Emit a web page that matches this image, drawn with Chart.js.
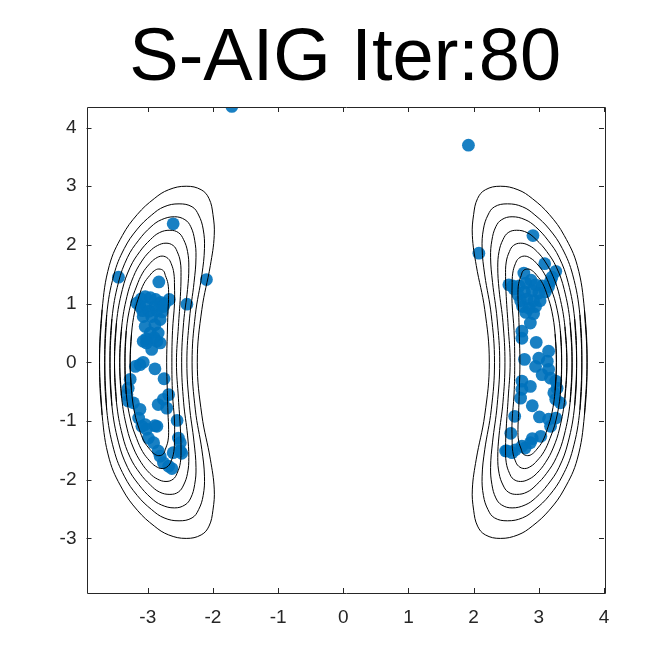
<!DOCTYPE html>
<html>
<head>
<meta charset="utf-8">
<script src="https://cdn.jsdelivr.net/npm/chart.js@4.4.1/dist/chart.umd.min.js"></script>
<style>
  html, body { margin: 0; padding: 0; background: #fff; }
  #wrap { width: 667px; height: 667px; }
</style>
</head>
<body>
<div id="wrap"><canvas id="plot" width="667" height="667"></canvas></div>
<script>
const titleText = "S-AIG Iter:80";

// axis limits and tick labels
const xLimits = [-3.94, 4];
const yLimits = [-3.93, 4.35];
const xTickValues = [-3, -2, -1, 0, 1, 2, 3, 4];
const yTickValues = [-3, -2, -1, 0, 1, 2, 3, 4];

// contour rings of the left mode (outer -> inner)
const leftC1 = [[-3.74,0],[-3.70,0.90],[-3.59,1.65],[-3.39,2.16],[-3.16,2.52],[-2.90,2.79],[-2.68,2.94],[-2.41,3.00],[-2.18,2.94],[-2.06,2.79],[-2.00,2.52],[-1.98,2.16],[-2.04,1.65],[-2.17,0.90],[-2.24,0],[-2.17,-0.90],[-2.04,-1.65],[-1.98,-2.16],[-2.00,-2.52],[-2.06,-2.79],[-2.18,-2.94],[-2.41,-3.00],[-2.68,-2.94],[-2.90,-2.79],[-3.16,-2.52],[-3.39,-2.16],[-3.59,-1.65],[-3.70,-0.90]];
const leftC2 = [[-3.66,0],[-3.63,0.81],[-3.52,1.49],[-3.36,1.94],[-3.16,2.27],[-2.94,2.51],[-2.75,2.65],[-2.52,2.70],[-2.32,2.65],[-2.22,2.51],[-2.15,2.27],[-2.13,1.94],[-2.17,1.49],[-2.27,0.81],[-2.32,0],[-2.27,-0.81],[-2.17,-1.49],[-2.13,-1.94],[-2.15,-2.27],[-2.22,-2.51],[-2.32,-2.65],[-2.52,-2.70],[-2.75,-2.65],[-2.94,-2.51],[-3.16,-2.27],[-3.36,-1.94],[-3.52,-1.49],[-3.63,-0.81]];
const leftC3 = [[-3.58,0],[-3.55,0.74],[-3.45,1.36],[-3.31,1.79],[-3.14,2.08],[-2.95,2.31],[-2.79,2.43],[-2.59,2.48],[-2.43,2.43],[-2.34,2.31],[-2.28,2.08],[-2.26,1.79],[-2.29,1.36],[-2.36,0.74],[-2.40,0],[-2.36,-0.74],[-2.29,-1.36],[-2.26,-1.79],[-2.28,-2.08],[-2.34,-2.31],[-2.43,-2.43],[-2.59,-2.48],[-2.79,-2.43],[-2.95,-2.31],[-3.14,-2.08],[-3.31,-1.79],[-3.45,-1.36],[-3.55,-0.74]];
const leftC4 = [[-3.51,0],[-3.48,0.68],[-3.39,1.24],[-3.27,1.62],[-3.12,1.89],[-2.96,2.09],[-2.82,2.21],[-2.66,2.25],[-2.53,2.21],[-2.45,2.09],[-2.39,1.89],[-2.37,1.62],[-2.39,1.24],[-2.45,0.68],[-2.48,0],[-2.45,-0.68],[-2.39,-1.24],[-2.37,-1.62],[-2.39,-1.89],[-2.45,-2.09],[-2.53,-2.21],[-2.66,-2.25],[-2.82,-2.21],[-2.96,-2.09],[-3.12,-1.89],[-3.27,-1.62],[-3.39,-1.24],[-3.48,-0.68]];
const leftC5 = [[-3.43,0],[-3.40,0.61],[-3.32,1.12],[-3.22,1.46],[-3.10,1.71],[-2.97,1.89],[-2.85,1.99],[-2.72,2.03],[-2.61,1.99],[-2.55,1.89],[-2.50,1.71],[-2.49,1.46],[-2.50,1.12],[-2.53,0.61],[-2.56,0],[-2.53,-0.61],[-2.50,-1.12],[-2.49,-1.46],[-2.50,-1.71],[-2.55,-1.89],[-2.61,-1.99],[-2.72,-2.03],[-2.85,-1.99],[-2.97,-1.89],[-3.10,-1.71],[-3.22,-1.46],[-3.32,-1.12],[-3.40,-0.61]];
const leftC6 = [[-3.35,0],[-3.33,0.54],[-3.26,1.00],[-3.17,1.30],[-3.08,1.52],[-2.97,1.68],[-2.88,1.77],[-2.78,1.81],[-2.69,1.77],[-2.64,1.68],[-2.60,1.52],[-2.59,1.30],[-2.59,1.00],[-2.62,0.54],[-2.63,0],[-2.62,-0.54],[-2.59,-1.00],[-2.59,-1.30],[-2.60,-1.52],[-2.64,-1.68],[-2.69,-1.77],[-2.78,-1.81],[-2.88,-1.77],[-2.97,-1.68],[-3.08,-1.52],[-3.17,-1.30],[-3.26,-1.00],[-3.33,-0.54]];
const leftC7 = [[-3.27,0],[-3.25,0.48],[-3.20,0.87],[-3.13,1.14],[-3.06,1.34],[-2.97,1.48],[-2.90,1.56],[-2.83,1.59],[-2.76,1.56],[-2.73,1.48],[-2.69,1.34],[-2.68,1.14],[-2.69,0.87],[-2.70,0.48],[-2.71,0],[-2.70,-0.48],[-2.69,-0.87],[-2.68,-1.14],[-2.69,-1.34],[-2.73,-1.48],[-2.76,-1.56],[-2.83,-1.59],[-2.90,-1.56],[-2.97,-1.48],[-3.06,-1.34],[-3.13,-1.14],[-3.20,-0.87],[-3.25,-0.48]];

// contour rings of the right mode (a mirror image in the picture)
const rightC1 = [[3.74,0],[3.70,0.90],[3.59,1.65],[3.39,2.16],[3.16,2.52],[2.90,2.79],[2.68,2.94],[2.41,3.00],[2.18,2.94],[2.06,2.79],[2.00,2.52],[1.98,2.16],[2.04,1.65],[2.17,0.90],[2.24,0],[2.17,-0.90],[2.04,-1.65],[1.98,-2.16],[2.00,-2.52],[2.06,-2.79],[2.18,-2.94],[2.41,-3.00],[2.68,-2.94],[2.90,-2.79],[3.16,-2.52],[3.39,-2.16],[3.59,-1.65],[3.70,-0.90]];
const rightC2 = [[3.66,0],[3.63,0.81],[3.52,1.49],[3.36,1.94],[3.16,2.27],[2.94,2.51],[2.75,2.65],[2.52,2.70],[2.32,2.65],[2.22,2.51],[2.15,2.27],[2.13,1.94],[2.17,1.49],[2.27,0.81],[2.32,0],[2.27,-0.81],[2.17,-1.49],[2.13,-1.94],[2.15,-2.27],[2.22,-2.51],[2.32,-2.65],[2.52,-2.70],[2.75,-2.65],[2.94,-2.51],[3.16,-2.27],[3.36,-1.94],[3.52,-1.49],[3.63,-0.81]];
const rightC3 = [[3.58,0],[3.55,0.74],[3.45,1.36],[3.31,1.79],[3.14,2.08],[2.95,2.31],[2.79,2.43],[2.59,2.48],[2.43,2.43],[2.34,2.31],[2.28,2.08],[2.26,1.79],[2.29,1.36],[2.36,0.74],[2.40,0],[2.36,-0.74],[2.29,-1.36],[2.26,-1.79],[2.28,-2.08],[2.34,-2.31],[2.43,-2.43],[2.59,-2.48],[2.79,-2.43],[2.95,-2.31],[3.14,-2.08],[3.31,-1.79],[3.45,-1.36],[3.55,-0.74]];
const rightC4 = [[3.51,0],[3.48,0.68],[3.39,1.24],[3.27,1.62],[3.12,1.89],[2.96,2.09],[2.82,2.21],[2.66,2.25],[2.53,2.21],[2.45,2.09],[2.39,1.89],[2.37,1.62],[2.39,1.24],[2.45,0.68],[2.48,0],[2.45,-0.68],[2.39,-1.24],[2.37,-1.62],[2.39,-1.89],[2.45,-2.09],[2.53,-2.21],[2.66,-2.25],[2.82,-2.21],[2.96,-2.09],[3.12,-1.89],[3.27,-1.62],[3.39,-1.24],[3.48,-0.68]];
const rightC5 = [[3.43,0],[3.40,0.61],[3.32,1.12],[3.22,1.46],[3.10,1.71],[2.97,1.89],[2.85,1.99],[2.72,2.03],[2.61,1.99],[2.55,1.89],[2.50,1.71],[2.49,1.46],[2.50,1.12],[2.53,0.61],[2.56,0],[2.53,-0.61],[2.50,-1.12],[2.49,-1.46],[2.50,-1.71],[2.55,-1.89],[2.61,-1.99],[2.72,-2.03],[2.85,-1.99],[2.97,-1.89],[3.10,-1.71],[3.22,-1.46],[3.32,-1.12],[3.40,-0.61]];
const rightC6 = [[3.35,0],[3.33,0.54],[3.26,1.00],[3.17,1.30],[3.08,1.52],[2.97,1.68],[2.88,1.77],[2.78,1.81],[2.69,1.77],[2.64,1.68],[2.60,1.52],[2.59,1.30],[2.59,1.00],[2.62,0.54],[2.63,0],[2.62,-0.54],[2.59,-1.00],[2.59,-1.30],[2.60,-1.52],[2.64,-1.68],[2.69,-1.77],[2.78,-1.81],[2.88,-1.77],[2.97,-1.68],[3.08,-1.52],[3.17,-1.30],[3.26,-1.00],[3.33,-0.54]];
const rightC7 = [[3.27,0],[3.25,0.48],[3.20,0.87],[3.13,1.14],[3.06,1.34],[2.97,1.48],[2.90,1.56],[2.83,1.59],[2.76,1.56],[2.73,1.48],[2.69,1.34],[2.68,1.14],[2.69,0.87],[2.70,0.48],[2.71,0],[2.70,-0.48],[2.69,-0.87],[2.68,-1.14],[2.69,-1.34],[2.73,-1.48],[2.76,-1.56],[2.83,-1.59],[2.90,-1.56],[2.97,-1.48],[3.06,-1.34],[3.13,-1.14],[3.20,-0.87],[3.25,-0.48]];

// particles after 80 iterations
const particlesLeft = [
  [-1.71,4.36],[-2.61,2.36],[-3.45,1.45],[-2.83,1.37],[-2.10,1.41],[-2.67,1.07],[-2.40,0.99],
  [-3.17,1.01],[-3.10,1.08],[-3.04,1.12],[-2.96,1.10],[-2.88,1.07],[-2.80,1.02],[-2.74,1.00],
  [-3.12,0.95],[-3.02,0.95],[-2.89,0.95],[-2.76,0.95],[-3.08,0.88],[-2.98,0.87],[-2.86,0.88],[-2.78,0.86],
  [-3.07,0.78],[-2.94,0.78],[-2.81,0.73],[-3.04,0.61],[-2.89,0.64],[-2.96,0.50],[-2.84,0.50],
  [-3.02,0.40],[-2.90,0.42],[-3.07,0.36],[-2.86,0.36],[-2.81,0.33],[-3.02,0.33],[-2.94,0.22],
  [-3.07,0.00],[-3.12,-0.04],[-3.19,-0.07],[-2.89,-0.11],[-3.27,-0.29],[-3.30,-0.44],[-3.32,-0.55],
  [-3.30,-0.66],[-3.22,-0.69],[-2.75,-0.28],[-2.68,-0.55],[-2.76,-0.63],[-2.84,-0.72],[-2.71,-0.78],
  [-3.12,-0.80],[-3.14,-0.95],[-3.09,-1.09],[-3.02,-1.14],[-3.04,-1.06],[-2.89,-1.08],[-2.86,-1.09],
  [-2.55,-0.99],[-2.53,-1.29],[-2.50,-1.37],[-2.50,-1.51],[-2.61,-1.54],[-2.48,-1.55],
  [-2.99,-1.29],[-2.91,-1.37],[-2.84,-1.51],[-2.81,-1.60],[-2.76,-1.71],[-2.68,-1.77],[-2.63,-1.81]
];
const particlesRight = [
  [1.92,3.70],[2.08,1.86],[2.91,2.16],[3.09,1.68],[3.26,1.55],[2.77,1.52],[2.54,1.32],[3.18,1.38],[3.15,1.29],
  [2.62,1.25],[2.70,1.30],[2.80,1.35],[2.88,1.40],[2.95,1.32],[3.05,1.30],[2.68,1.15],[2.78,1.20],
  [2.90,1.22],[3.00,1.18],[3.10,1.20],[2.72,1.05],[2.82,1.08],[2.92,1.05],[3.02,1.05],[2.75,0.95],
  [2.85,0.92],[2.95,0.95],[2.80,0.85],[2.92,0.83],[2.60,1.30],[3.20,1.45],
  [2.87,0.67],[2.74,0.53],[2.74,0.41],[2.96,0.34],[3.15,0.19],[2.78,0.05],[3.00,0.07],[3.13,0.02],
  [2.95,-0.07],[3.15,-0.12],[3.05,-0.21],[3.18,-0.27],[3.26,-0.32],[2.74,-0.32],[2.87,-0.41],
  [2.74,-0.46],[2.72,-0.61],[3.28,-0.44],[3.23,-0.52],[3.26,-0.63],[3.33,-0.69],[2.90,-0.74],
  [2.63,-0.92],[3.01,-0.93],[3.15,-0.97],[3.26,-0.95],[3.18,-1.09],[2.57,-1.21],[3.03,-1.26],
  [2.90,-1.30],[2.87,-1.37],[2.74,-1.43],[2.79,-1.46],[2.64,-1.49],[2.51,-1.51],[2.59,-1.54],[2.49,-1.51]
];

const contours = [leftC1, leftC2, leftC3, leftC4, leftC5, leftC6, leftC7,
                  rightC1, rightC2, rightC3, rightC4, rightC5, rightC6, rightC7];

// close a ring so the smoothed line joins up without a corner
function closedRing(ring) {
  const pts = ring.map(p => ({ x: p[0], y: p[1] }));
  return [pts[pts.length - 1], ...pts, pts[0], pts[1]];
}

const datasets = contours.map(ring => ({
  data: closedRing(ring),
  showLine: true,
  borderColor: "#000",
  borderWidth: 1,
  pointRadius: 0,
  tension: 0.4,
  fill: false,
}));

datasets.push({
  data: particlesLeft.concat(particlesRight).map(p => ({ x: p[0], y: p[1] })),
  showLine: false,
  pointRadius: 6.4,
  pointHoverRadius: 6.4,
  borderWidth: 0,
  backgroundColor: "rgba(0, 114, 189, 0.9)",
});

// matlab style box with inward ticks on all four sides, title over the axes
const boxPlugin = {
  id: "matlabBox",
  afterDatasetsDraw(chart) {
    const { ctx, chartArea: a, scales } = chart;
    ctx.save();
    ctx.strokeStyle = "#262626";
    ctx.lineWidth = 1;
    ctx.beginPath();
    ctx.rect(Math.round(a.left) + 0.5, Math.round(a.top) + 0.5,
             Math.round(a.right - a.left), Math.round(a.bottom - a.top));
    const len = 5;
    xTickValues.forEach(v => {
      const px = Math.round(scales.x.getPixelForValue(v)) + 0.5;
      ctx.moveTo(px, a.bottom); ctx.lineTo(px, a.bottom - len);
      ctx.moveTo(px, a.top); ctx.lineTo(px, a.top + len);
    });
    yTickValues.forEach(v => {
      const py = Math.round(scales.y.getPixelForValue(v)) + 0.5;
      ctx.moveTo(a.left, py); ctx.lineTo(a.left + len, py);
      ctx.moveTo(a.right, py); ctx.lineTo(a.right - len, py);
    });
    ctx.stroke();

    ctx.fillStyle = "#000";
    ctx.font = "74px 'Liberation Sans', Arial, Helvetica, sans-serif";
    ctx.textAlign = "center";
    ctx.textBaseline = "alphabetic";
    ctx.fillText(titleText, (a.left + a.right) / 2, 80);
    ctx.restore();
  },
};

const tickFont = { family: "'Liberation Sans', Arial, Helvetica, sans-serif", size: 19 };

new Chart(document.getElementById("plot").getContext("2d"), {
  type: "scatter",
  data: { datasets },
  options: {
    responsive: false,
    animation: false,
    events: [],
    layout: { padding: { top: 107, right: 63, bottom: 0, left: 0 } },
    plugins: {
      legend: { display: false },
      tooltip: { enabled: false },
      title: { display: false },
    },
    scales: {
      x: {
        type: "linear",
        min: xLimits[0],
        max: xLimits[1],
        afterBuildTicks: s => { s.ticks = xTickValues.map(v => ({ value: v })); },
        afterFit: s => { s.height = 74; },
        grid: { display: false, drawTicks: false },
        border: { display: false },
        ticks: { color: "#262626", font: tickFont, padding: 13, maxRotation: 0 },
      },
      y: {
        type: "linear",
        min: yLimits[0],
        max: yLimits[1],
        afterBuildTicks: s => { s.ticks = yTickValues.map(v => ({ value: v })); },
        afterFit: s => { s.width = 86.5; },
        grid: { display: false, drawTicks: false },
        border: { display: false },
        ticks: { color: "#262626", font: tickFont, padding: 10 },
      },
    },
  },
  plugins: [boxPlugin],
});
</script>
</body>
</html>
